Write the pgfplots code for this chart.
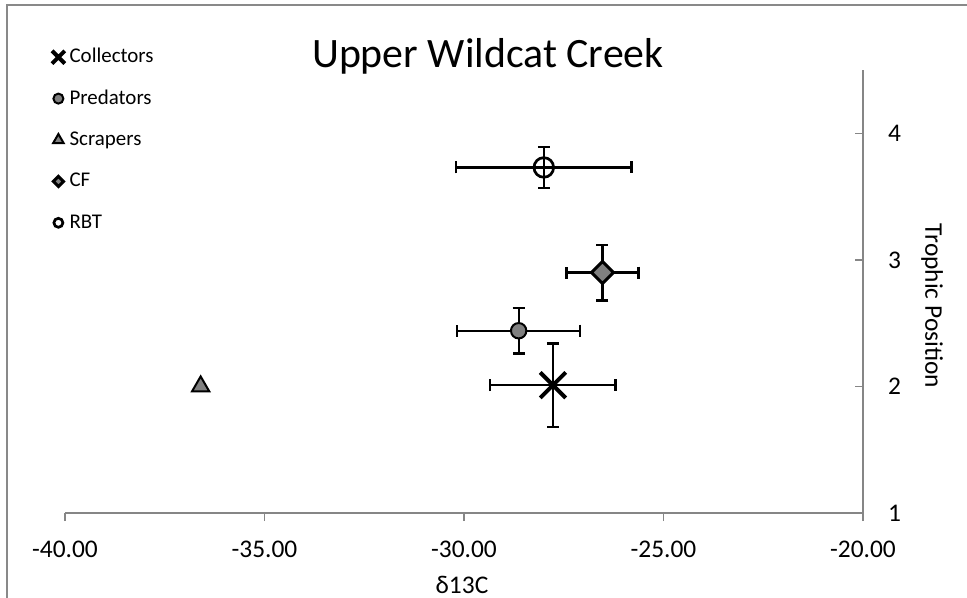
\documentclass[border=0pt]{standalone}
\usepackage{pgfplots}
\pgfplotsset{compat=1.18}
\usepackage{fontspec}
\setmainfont{Carlito}
\definecolor{axisgray}{HTML}{868686}
\definecolor{framegray}{HTML}{898989}
\definecolor{markgray}{HTML}{808080}
\begin{document}
\begin{tikzpicture}
\path[use as bounding box] (-65bp,-85bp) rectangle (902bp,513bp);
\draw[framegray, line width=2bp] (-57.5bp,-90bp) -- (-57.5bp,508bp) -- (910bp,508bp);
\begin{axis}[
  scale only axis, width=798bp, height=443bp,
  xmin=-40, xmax=-20, ymin=1, ymax=4.5,
  axis x line=bottom, axis y line=right,
  axis line style={draw=axisgray, line width=1.3bp, -},
  xtick={-40,-35,-30,-25,-20}, ytick={1,2,3,4},
  tick align=inside,
  major tick length=8bp,
  tick style={draw=axisgray, line width=1.3bp},
  every major x tick/.append style={yshift=-8bp},
  /pgf/number format/assume math mode=true,
  x tick label style={font=\fontsize{25.5}{30}\selectfont, anchor=base, inner sep=0pt, yshift=-44bp,
     /pgf/number format/.cd, fixed, fixed zerofill, precision=2},
  y tick label style={font=\fontsize{25.5}{30}\selectfont, anchor=west, inner sep=0pt, xshift=25bp},
  title={Upper Wildcat Creek},
  every axis title/.style={at={(axis description cs:0.530,1)}, anchor=base, yshift=3bp, font=\fontsize{42}{50}\selectfont},
  xlabel={δ13C},
  every axis x label/.style={at={(axis description cs:0.4975,0)}, anchor=base, yshift=-80bp, font=\fontsize{25.5}{30}\selectfont},
  ylabel={Trophic Position},
  every axis y label/.style={at={(axis description cs:1.0865,0.4673)}, rotate=-90, anchor=center, font=\fontsize{25.5}{30}\selectfont},
  legend style={at={(axis description cs:0,1)}, anchor=north west, xshift=-14bp, yshift=22.5bp,
     draw=none, fill=none, inner sep=0pt, row sep=20.4bp, column sep=0pt,
     font=\fontsize{21}{25}\selectfont,
     nodes={inner sep=1bp, text height=14bp, text depth=5bp}},
  legend cell align=left,
  lgd/.style={legend image code/.code={\draw[##1, mark size=#1] plot coordinates {(0bp,1bp)}; \path (-7bp,0bp) (10bp,0bp);}},
  ebars/.style={error bars/.cd, x dir=both, x explicit, y dir=both, y explicit,
     error bar style={line width=2.3bp, black},
     error mark options={rotate=90, line width=2.3bp, mark size=6bp, black}},
  clip=false,
]
\addplot[only marks, mark=x, mark size=18bp, mark options={line width=4bp, black}, lgd=9bp, ebars]
  coordinates {(-27.77,2.01) +- (1.57,0.33)};
\addlegendentry{Collectors}
\addplot[only marks, mark=*, mark size=7.7bp, mark options={line width=2bp, draw=black, fill=markgray}, lgd=5bp, ebars]
  coordinates {(-28.63,2.44) +- (1.54,0.18)};
\addlegendentry{Predators}
\addplot[only marks, mark=triangle*, mark size=10bp, mark options={line width=2bp, draw=black, fill=markgray}, lgd=6bp]
  coordinates {(-36.6,2.0)};
\addlegendentry{Scrapers}
\addplot[only marks, mark=square*, mark size=7.8bp, mark options={rotate=45, line width=3bp, draw=black, fill=markgray}, lgd=3.6bp, ebars]
  coordinates {(-26.53,2.90) +- (0.90,0.22)};
\addlegendentry{CF}
\addplot[only marks, mark=o, mark size=9.8bp, mark options={line width=2.7bp, draw=black}, lgd=4.5bp, ebars]
  coordinates {(-28.0,3.73) +- (2.2,0.16)};
\addlegendentry{RBT}
\end{axis}
\end{tikzpicture}
\end{document}
